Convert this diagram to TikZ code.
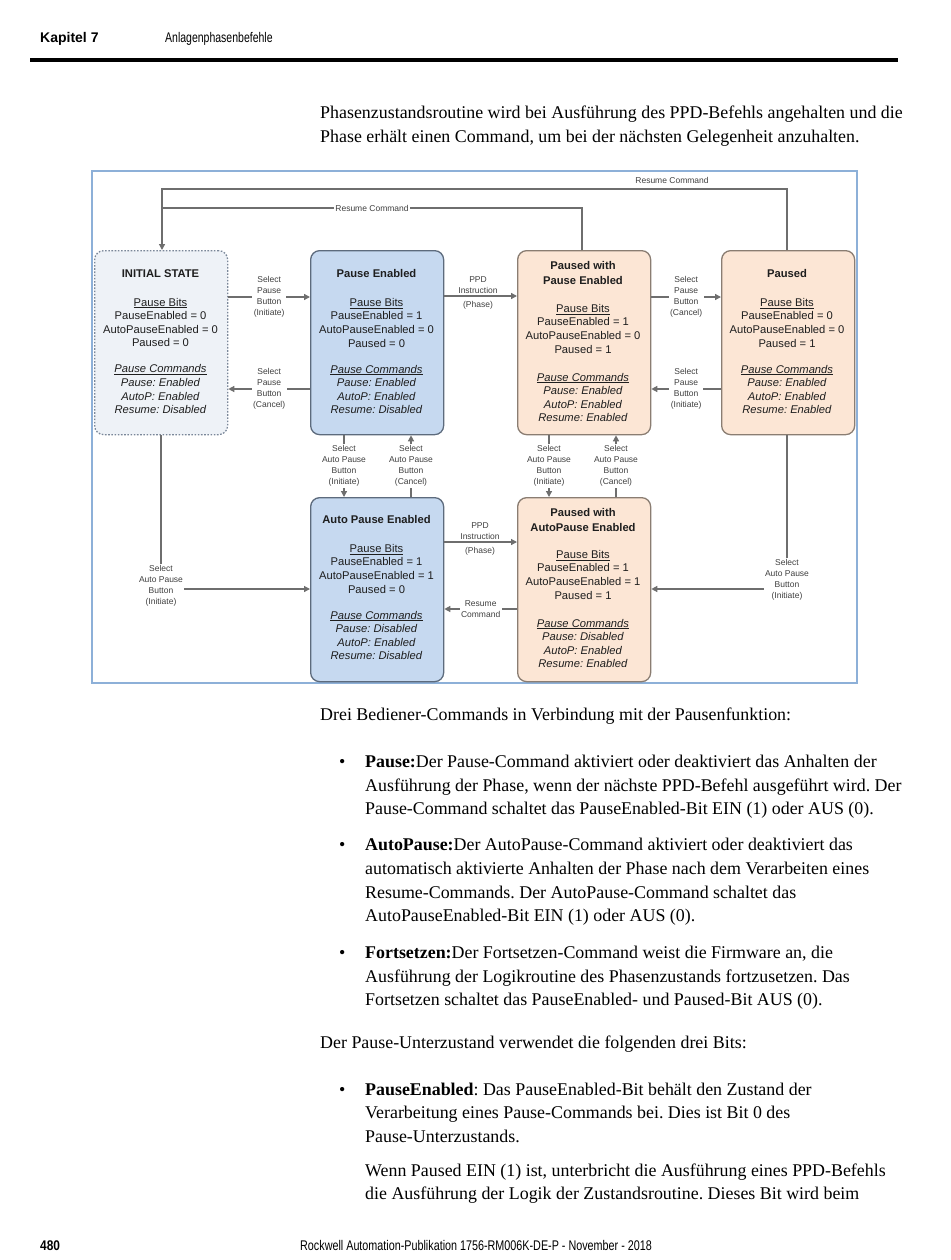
\documentclass[tikz,border=0pt]{standalone}
\usepackage{fontspec}
\setmainfont{Liberation Serif}
\newfontfamily\arialf{Liberation Sans}
\usetikzlibrary{arrows.meta}
\definecolor{frameblue}{HTML}{8DB0D8}
\definecolor{initfill}{HTML}{EEF2F7}
\definecolor{initdraw}{HTML}{7A8799}
\definecolor{bluefill}{HTML}{C6D9F0}
\definecolor{bluedraw}{HTML}{5D6B7D}
\definecolor{peachfill}{HTML}{FCE6D5}
\definecolor{peachdraw}{HTML}{8A7D72}
\definecolor{conncol}{HTML}{6E6E6E}
\definecolor{txt}{HTML}{1E1E1E}
\frenchspacing
\begin{document}
\frenchspacing
\begin{tikzpicture}[x=1pt,y=-1pt,
  statebox/.style={rounded corners=9pt, line width=1.3pt, minimum width=133pt, minimum height=184pt, inner sep=0pt, anchor=north west},
  initbox/.style={statebox, fill=initfill, draw=initdraw, dash pattern=on 1.6pt off 1.6pt},
  bluebox/.style={statebox, fill=bluefill, draw=bluedraw},
  peachbox/.style={statebox, fill=peachfill, draw=peachdraw},
  boxtext/.style={anchor=north, inner sep=0pt, align=center, text=txt, font=\arialf\fontsize{11.2}{13.6}\selectfont},
  conn/.style={draw=conncol, line width=1.3pt},
  arr/.style={conn, -{Triangle[length=6pt,width=6pt]}},
  lab/.style={font=\arialf\fontsize{8.5}{11}\selectfont, text=txt!85, align=center, inner sep=1.5pt},
  labw/.style={lab, fill=white},
  body/.style={anchor=base west, inner sep=0pt, text=black, font=\frenchspacing\fontsize{17.9}{24}\selectfont},
  headf/.style={anchor=base west, inner sep=0pt, text=black, font=\arialf\fontsize{14}{16}\selectfont}
]
\useasboundingbox (0,0) rectangle (950,1260);

% header
\node[headf] (kap) at (40,43) {\bfseries Kapitel 7};
\node[headf] (anl) at (165,43) {\scalebox{0.75}[1]{Anlagenphasenbefehle}};
\draw[line width=4pt] (30,60) -- (898,60);

% intro text
\node[body] (t1) at (320,119) {Phasenzustandsroutine wird bei Ausführung des PPD-Befehls angehalten und die};
\node[body] (t2) at (320,143) {Phase erhält einen Command, um bei der nächsten Gelegenheit anzuhalten.};

% diagram frame
\draw[frameblue, line width=1.2pt] (92,171) rectangle (857,683);

% helper coordinates
\coordinate (h189) at (0,189);
\coordinate (h208) at (0,208);
\coordinate (h296) at (0,296);
\coordinate (h297) at (0,297);
\coordinate (h389) at (0,389);
\coordinate (h542) at (0,542);
\coordinate (h589) at (0,589);
\coordinate (h609) at (0,609);
\coordinate (v161) at (161,0);
\coordinate (v162) at (162,0);
\coordinate (v344) at (344,0);
\coordinate (v411) at (411,0);
\coordinate (v549) at (549,0);
\coordinate (v582) at (582,0);
\coordinate (v616) at (616,0);
\coordinate (v787) at (787,0);

% states
\node[initbox] (init) at (94,250) {};
\node[bluebox] (pe) at (310,250) {};
\node[peachbox] (pwpe) at (517,250) {};
\node[peachbox] (paused) at (721,250) {};
\node[bluebox] (ape) at (310,497) {};
\node[peachbox] (pwape) at (517,497) {};

\node[boxtext] (initT) at (160.5,269) {{\bfseries INITIAL STATE}\\[15.4pt]
  \underline{Pause Bits}\\ PauseEnabled = 0\\ AutoPauseEnabled = 0\\ Paused = 0\\[12.4pt]
  \textit{\underline{Pause Commands}}\\ \textit{Pause: Enabled}\\ \textit{AutoP: Enabled}\\ \textit{Resume: Disabled}};
\node[boxtext] (peT) at (376.5,269) {{\bfseries Pause Enabled}\\[15.4pt]
  \underline{Pause Bits}\\ PauseEnabled = 1\\ AutoPauseEnabled = 0\\ Paused = 0\\[12.4pt]
  \textit{\underline{Pause Commands}}\\ \textit{Pause: Enabled}\\ \textit{AutoP: Enabled}\\ \textit{Resume: Disabled}};
\node[boxtext] (pwpeT) at (583,261) {{\bfseries Paused with}\\[1.4pt] {\bfseries Pause Enabled}\\[14.4pt]
  \underline{Pause Bits}\\ PauseEnabled = 1\\ AutoPauseEnabled = 0\\ Paused = 1\\[14.4pt]
  \textit{\underline{Pause Commands}}\\ \textit{Pause: Enabled}\\ \textit{AutoP: Enabled}\\ \textit{Resume: Enabled}};
\node[boxtext] (pausedT) at (787,269) {{\bfseries Paused}\\[15.4pt]
  \underline{Pause Bits}\\ PauseEnabled = 0\\ AutoPauseEnabled = 0\\ Paused = 1\\[12.4pt]
  \textit{\underline{Pause Commands}}\\ \textit{Pause: Enabled}\\ \textit{AutoP: Enabled}\\ \textit{Resume: Enabled}};
\node[boxtext] (apeT) at (376.5,515) {{\bfseries Auto Pause Enabled}\\[15.4pt]
  \underline{Pause Bits}\\ PauseEnabled = 1\\ AutoPauseEnabled = 1\\ Paused = 0\\[12.4pt]
  \textit{\underline{Pause Commands}}\\ \textit{Pause: Disabled}\\ \textit{AutoP: Enabled}\\ \textit{Resume: Disabled}};
\node[boxtext] (pwapeT) at (583,508) {{\bfseries Paused with}\\[1.4pt] {\bfseries AutoPause Enabled}\\[13.4pt]
  \underline{Pause Bits}\\ PauseEnabled = 1\\ AutoPauseEnabled = 1\\ Paused = 1\\[14.4pt]
  \textit{\underline{Pause Commands}}\\ \textit{Pause: Disabled}\\ \textit{AutoP: Enabled}\\ \textit{Resume: Enabled}};

% connectors
\draw[arr] (init.east |- h297) -- (pe.west |- h297) node[labw, midway] (l1) {Select\\Pause\\Button\\(Initiate)};
\draw[arr] (pe.west |- h389) -- (init.east |- h389) node[labw, midway] (l2) {Select\\Pause\\Button\\(Cancel)};
\draw[arr] (pe.east |- h296) -- (pwpe.west |- h296);
\node[lab] (l3) at (478,292.5) {PPD\\Instruction\\[3pt](Phase)};
\draw[arr] (pwpe.east |- h297) -- (paused.west |- h297) node[labw, midway] (l4) {Select\\Pause\\Button\\(Cancel)};
\draw[arr] (paused.west |- h389) -- (pwpe.east |- h389) node[labw, midway] (l5) {Select\\Pause\\Button\\(Initiate)};

\draw[arr] (pe.south -| v344) -- (ape.north -| v344) node[labw, midway] (l6) {Select\\Auto Pause\\Button\\(Initiate)};
\draw[arr] (ape.north -| v411) -- (pe.south -| v411) node[labw, midway] (l7) {Select\\Auto Pause\\Button\\(Cancel)};
\draw[arr] (pwpe.south -| v549) -- (pwape.north -| v549) node[labw, midway] (l8) {Select\\Auto Pause\\Button\\(Initiate)};
\draw[arr] (pwape.north -| v616) -- (pwpe.south -| v616) node[labw, midway] (l9) {Select\\Auto Pause\\Button\\(Cancel)};

\draw[arr] (ape.east |- h542) -- (pwape.west |- h542);
\node[lab] (l10) at (480,538.5) {PPD\\Instruction\\[3pt](Phase)};
\draw[arr] (pwape.west |- h609) -- (ape.east |- h609) node[labw, midway] (l11) {Resume\\Command};

\draw[arr] (init.south -| v161) |- (ape.west |- h589);
\node[labw] (l12) at (161,585.5) {Select\\Auto Pause\\Button\\(Initiate)};
\draw[arr] (paused.south -| v787) |- (pwape.east |- h589);
\node[labw] (l13) at (787,580) {Select\\Auto Pause\\Button\\(Initiate)};

\draw[arr] (paused.north -| v787) |- (h189 -| v162) -- (init.north -| v162);
\node[lab] (l14) at (672,180) {Resume Command};
\draw[conn] (pwpe.north -| v582) |- (h208 -| v162);
\node[labw, inner sep=1pt] (l15) at (372,208) {Resume Command};

% body text
\node[body] (t3) at (320,720) {Drei Bediener-Commands in Verbindung mit der Pausenfunktion:};
\node[body] (bu1) at (339,767) {•};
\node[body] (b11) at (365,767) {\textbf{Pause:}Der Pause-Command aktiviert oder deaktiviert das Anhalten der};
\node[body] (b12) at (365,791) {Ausführung der Phase, wenn der nächste PPD-Befehl ausgeführt wird. Der};
\node[body] (b13) at (365,814) {Pause-Command schaltet das PauseEnabled-Bit EIN (1) oder AUS (0).};
\node[body] (bu2) at (339,850) {•};
\node[body] (b21) at (365,850) {\textbf{AutoPause:}Der AutoPause-Command aktiviert oder deaktiviert das};
\node[body] (b22) at (365,874) {automatisch aktivierte Anhalten der Phase nach dem Verarbeiten eines};
\node[body] (b23) at (365,898) {Resume-Commands. Der AutoPause-Command schaltet das};
\node[body] (b24) at (365,921) {AutoPauseEnabled-Bit EIN (1) oder AUS (0).};
\node[body] (bu3) at (339,958) {•};
\node[body] (b31) at (365,958) {\textbf{Fortsetzen:}Der Fortsetzen-Command weist die Firmware an, die};
\node[body] (b32) at (365,982) {Ausführung der Logikroutine des Phasenzustands fortzusetzen. Das};
\node[body] (b33) at (365,1005) {Fortsetzen schaltet das PauseEnabled- und Paused-Bit AUS (0).};
\node[body] (t4) at (320,1048) {Der Pause-Unterzustand verwendet die folgenden drei Bits:};
\node[body] (bu4) at (339,1095) {•};
\node[body] (b41) at (365,1095) {\textbf{PauseEnabled}: Das PauseEnabled-Bit behält den Zustand der};
\node[body] (b42) at (365,1118) {Verarbeitung eines Pause-Commands bei. Dies ist Bit 0 des};
\node[body] (b43) at (365,1142) {Pause-Unterzustands.};
\node[body] (b51) at (365,1176) {Wenn Paused EIN (1) ist, unterbricht die Ausführung eines PPD-Befehls};
\node[body] (b52) at (365,1199) {die Ausführung der Logik der Zustandsroutine. Dieses Bit wird beim};

% footer
\node[headf] (pg) at (40,1250) {\scalebox{0.85}[1]{\bfseries 480}};
\node[headf] (pub) at (300,1250) {\scalebox{0.77}[1]{Rockwell Automation-Publikation 1756-RM006K-DE-P - November - 2018}};
\end{tikzpicture}
\end{document}
